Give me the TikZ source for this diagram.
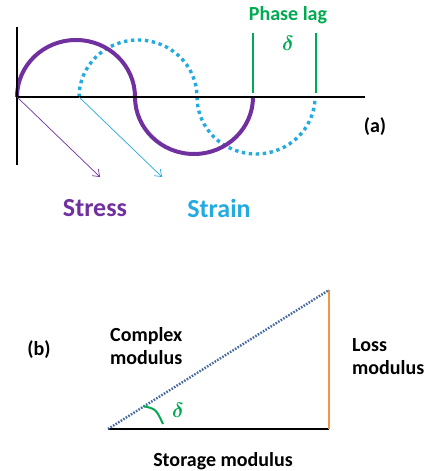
\documentclass[tikz,border=0pt]{standalone}
\usepackage{fontspec}
\setmainfont{Carlito}
\usetikzlibrary{arrows.meta}
\definecolor{stresscol}{RGB}{112,48,160}
\definecolor{straincol}{RGB}{35,170,225}
\definecolor{lagcol}{RGB}{0,170,80}
\definecolor{losscol}{RGB}{240,150,70}
\definecolor{hypcol}{RGB}{70,105,160}
\tikzset{
  lbl/.style={font=\bfseries\fontsize{20}{23}\selectfont, inner sep=0pt},
  biglbl/.style={font=\bfseries\fontsize{26}{30}\selectfont, inner sep=0pt},
  greek/.style={font=\boldmath\fontsize{22}{26}\selectfont, text=lagcol, inner sep=0pt},
  stressline/.style={draw=stresscol, line width=4pt},
  strainline/.style={draw=straincol, line width=3.4pt, dash pattern=on 3.4pt off 3.6pt},
  lagline/.style={draw=lagcol, line width=2.5pt},
  axisline/.style={draw=black, line width=1.6pt},
  pointer/.style={-{Straight Barb[length=6pt,width=9pt]}, line width=0.7pt},
}
\begin{document}
\begin{tikzpicture}[x=1pt,y=1pt]
\useasboundingbox (0,0) rectangle (432,471);
% ---------- (a) ----------
\coordinate (o) at (17,374);
\coordinate (s0) at (79,374);
\coordinate (axend) at (365,374);
\coordinate (vtop) at (17,444);
\coordinate (vbot) at (17,306);
\coordinate (lag1top) at (253,438);
\coordinate (lag1bot) at (253,378);
\coordinate (lag2top) at (316,438);
\coordinate (lag2bot) at (316,378);
\coordinate (stressend) at (100,294);
\coordinate (strainend) at (162,294);
% green phase-lag markers
\draw[lagline] (lag1top) -- (lag1bot);
\draw[lagline] (lag2top) -- (lag2bot);
% strain wave (dotted)
\draw[strainline] (s0) arc[start angle=180, end angle=0, x radius=59, y radius=57]
   arc[start angle=180, end angle=360, x radius=59, y radius=57];
% stress wave
\draw[stressline] (o) arc[start angle=180, end angle=0, x radius=59, y radius=57]
   arc[start angle=180, end angle=360, x radius=59, y radius=57];
% axes
\draw[axisline] (o) -- (axend);
\draw[axisline, line width=2pt] (vtop) -- (vbot);
% pointers
\draw[pointer, draw=stresscol] (o) -- (stressend);
\draw[pointer, draw=straincol] (s0) -- (strainend);
% labels
\node[biglbl, text=stresscol] (stress) at (95,263) {Stress};
\node[biglbl, text=straincol] (strain) at (219,263) {Strain};
\node[lbl, text=lagcol] (phaselag) at (288,456) {Phase lag};
\node[greek] (delta1) at (288,428) {$\delta$};
\node[lbl] (alabel) at (375,344) {(a)};
% ---------- (b) ----------
\coordinate (A) at (108,42);
\coordinate (B) at (329,42);
\coordinate (C) at (329,181);
\coordinate (arcA) at (143,65);
\coordinate (arcB) at (163,47);
\draw[draw=black, line width=2pt] (A) -- (B);
\draw[draw=losscol, line width=2.8pt] (B) -- (C);
\draw[draw=hypcol, line width=2.4pt, dash pattern=on 1.6pt off 1.4pt] (A) -- (C);
\draw[draw=lagcol, line width=2pt] (arcA) .. controls (156,62) .. (arcB);
\node[greek] (delta2) at (178,61) {$\delta$};
\node[lbl] (blabel) at (39,121) {(b)};
\node[lbl, anchor=west, align=left] (complex) at (110,124.5) {Complex\\modulus};
\node[lbl, anchor=west, align=left] (loss) at (352,114.5) {Loss\\modulus};
\node[lbl] (storage) at (223,10) {Storage modulus};
\end{tikzpicture}
\end{document}
